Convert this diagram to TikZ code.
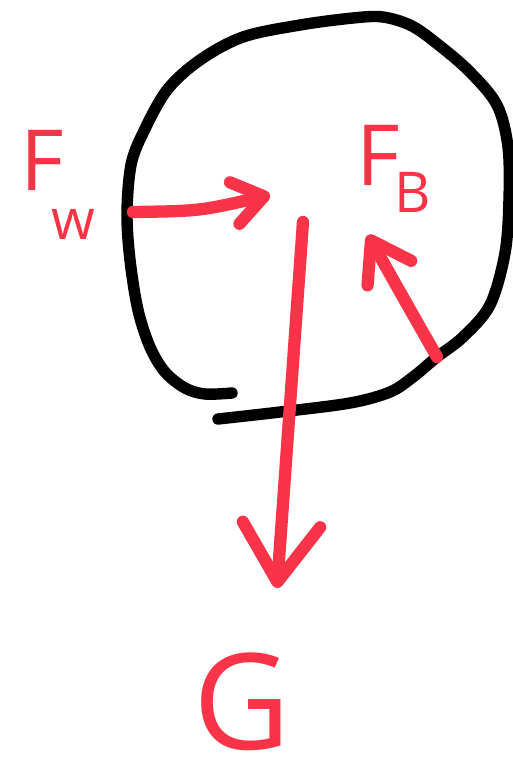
\documentclass[tikz,border=0pt]{standalone}
\usepackage{fontspec}
\setmainfont{Open Sans}
\usetikzlibrary{arrows.meta}
\definecolor{sketchred}{RGB}{250,52,72}

\tikzset{
  outline/.style={line width=6.5pt,line cap=round,line join=round},
  forcearrow/.style={draw=sketchred,line width=7pt,line cap=round,line join=round},
  forcetext/.style={text=sketchred,inner sep=0pt,font=\fontsize{48}{48}\selectfont},
  subtext/.style={text=sketchred,inner sep=0pt,font=\fontsize{32}{32}\selectfont}
}

\begin{document}
\begin{tikzpicture}[x=0.02cm,y=-0.02cm]
\useasboundingbox (0,0) rectangle (512,769);
% body outline (open loop, the two ends overlap at the bottom)
\draw[outline] plot[smooth,tension=0.55] coordinates {
  (232,393) (205,394) (185,388) (165,372) (150,347) (138,310) (130,260)
  (127,213) (131,165) (143,133) (167,90) (200,60) (243,37) (300,25)
  (353,18) (383,17) (412,26) (440,46) (470,72) (497,105) (508,147)
  (509,200) (505,253) (490,305) (463,337) (437,357) (413,377) (390,392)
  (350,403) (280,412) (218,419)};
% anchor points of the forces
\coordinate (w0) at (133,212);
\coordinate (w1) at (270,195);
\coordinate (b0) at (437,357);
\coordinate (b1) at (368,235);
\coordinate (g0) at (303,222);
\coordinate (g1) at (277,588);
% wind force
\draw[forcearrow,-{Straight Barb[length=0.6cm,width=0.85cm,round]}]
  (w0) .. controls (200,211) .. (w1);
% buoyancy
\draw[forcearrow,-{Straight Barb[length=0.75cm,width=1cm,round]}]
  (b0) .. controls (400,292) .. (b1);
% weight
\draw[forcearrow,-{Straight Barb[length=1.15cm,width=1.55cm,round]}]
  (g0) -- (g1);
% labels
\node[forcetext] (FW) at (42,160) {F};
\node[subtext] (FWsub) at (73,224) {w};
\node[forcetext] (FB) at (378,155) {F};
\node[subtext] (FBsub) at (413,192) {B};
\node[forcetext,font=\fontsize{76}{76}\selectfont] (G) at (242,702) {G};
\end{tikzpicture}
\end{document}
